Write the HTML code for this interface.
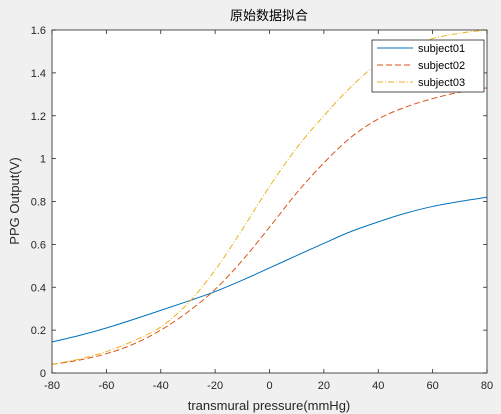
<!DOCTYPE html>
<html><head><meta charset="utf-8"><style>
body{margin:0;background:#f0f0f0;}
svg{display:block;font-family:"Liberation Sans","Noto Sans CJK SC",sans-serif;}
</style></head><body>
<svg width="501" height="414" viewBox="0 0 501 414" id="c">
<rect x="0" y="0" width="501" height="414" fill="#f0f0f0"/>
<rect x="52" y="30" width="435" height="343" fill="#fff"/>
<g id="axes"></g>
<g id="series"></g>
<rect x="52" y="30" width="435" height="343" fill="none" stroke="#262626" stroke-width="0.8"/>
<text x="269" y="20" text-anchor="middle" font-size="13" fill="#000">原始数据拟合</text>
<text x="269" y="410" text-anchor="middle" font-size="13" fill="#262626">transmural pressure(mmHg)</text>
<text transform="translate(19,201) rotate(-90)" text-anchor="middle" font-size="13" fill="#262626">PPG Output(V)</text>
<g>
<rect x="372" y="40" width="112" height="52" fill="#fff" stroke="#262626" stroke-width="0.8"/>
<line x1="377" y1="48" x2="413" y2="48" stroke="#0072bd" stroke-width="1"/>
<text x="418" y="52" font-size="11" fill="#000">subject01</text>
<line x1="377" y1="65" x2="413" y2="65" stroke="#d95319" stroke-width="1" stroke-dasharray="6,3"/>
<text x="418" y="69" font-size="11" fill="#000">subject02</text>
<line x1="377" y1="82" x2="413" y2="82" stroke="#edb120" stroke-width="1" stroke-dasharray="6,2,1,2"/>
<text x="418" y="86" font-size="11" fill="#000">subject03</text>
</g>
</svg>
<script>
const xs = [-80,-70,-60,-50,-40,-30,-20,-10,0,10,20,30,40,50,60,70,80];
const subject01 = [0.145,0.175,0.21,0.25,0.292,0.335,0.38,0.433,0.49,0.548,0.605,0.66,0.705,0.745,0.777,0.80,0.82];
const subject02 = [0.04,0.06,0.09,0.135,0.20,0.285,0.39,0.525,0.68,0.84,0.98,1.10,1.185,1.24,1.28,1.31,1.33];
const subject03 = [0.04,0.065,0.10,0.15,0.215,0.325,0.48,0.67,0.87,1.05,1.2,1.335,1.445,1.515,1.56,1.585,1.60];
const xTicks = [-80,-60,-40,-20,0,20,40,60,80];
const yTicks = [0,0.2,0.4,0.6,0.8,1,1.2,1.4,1.6];
const NS="http://www.w3.org/2000/svg";
const X=v=>52+(v+80)/160*435;
const Y=v=>373-v/1.6*343;
const ax=document.getElementById('axes');
function mk(t,a){const e=document.createElementNS(NS,t);for(const k in a)e.setAttribute(k,a[k]);return e;}
xTicks.forEach(t=>{
  const l=mk('line',{x1:X(t),x2:X(t),y1:373,y2:369,stroke:'#262626','stroke-width':0.8});
  
  
  ax.appendChild(l);
  const l2=mk('line',{x1:X(t),x2:X(t),y1:30,y2:34,stroke:'#262626','stroke-width':0.8});
  
  
  ax.appendChild(l2);
  const tx=mk('text',{x:X(t),y:389,'text-anchor':'middle','font-size':11,fill:'#262626'});
  tx.textContent=t;
  
  
  ax.appendChild(tx);
});
yTicks.forEach(t=>{
  const l=mk('line',{x1:52,x2:56,y1:Y(t),y2:Y(t),stroke:'#262626','stroke-width':0.8});
  
  
  ax.appendChild(l);
  const l2=mk('line',{x1:483,x2:487,y1:Y(t),y2:Y(t),stroke:'#262626','stroke-width':0.8});
  
  
  ax.appendChild(l2);
  const tx=mk('text',{x:46,y:Y(t)+4,'text-anchor':'end','font-size':11,fill:'#262626'});
  tx.textContent=t;
  
  
  ax.appendChild(tx);
});
function pathFor(ys){
  const p=xs.map((x,i)=>[X(x),Y(ys[i])]);
  let d='M'+p[0][0]+','+p[0][1];
  for(let i=0;i<p.length-1;i++){
    const p0=p[Math.max(i-1,0)],p1=p[i],p2=p[i+1],p3=p[Math.min(i+2,p.length-1)];
    const c1=[p1[0]+(p2[0]-p0[0])/6,p1[1]+(p2[1]-p0[1])/6];
    const c2=[p2[0]-(p3[0]-p1[0])/6,p2[1]-(p3[1]-p1[1])/6];
    d+=' C'+c1+' '+c2+' '+p2;
  }
  return d;
}
const sg=document.getElementById('series');
[[subject01,'#0072bd','none','line-subject01'],[subject02,'#d95319','6,3','line-subject02'],[subject03,'#edb120','6,2,1,2','line-subject03']].forEach(s=>{
  const p=mk('path',{d:pathFor(s[0]),fill:'none',stroke:s[1],'stroke-width':1,'stroke-dasharray':s[2]});
  
  
  sg.appendChild(p);
});
</script>
</body></html>
